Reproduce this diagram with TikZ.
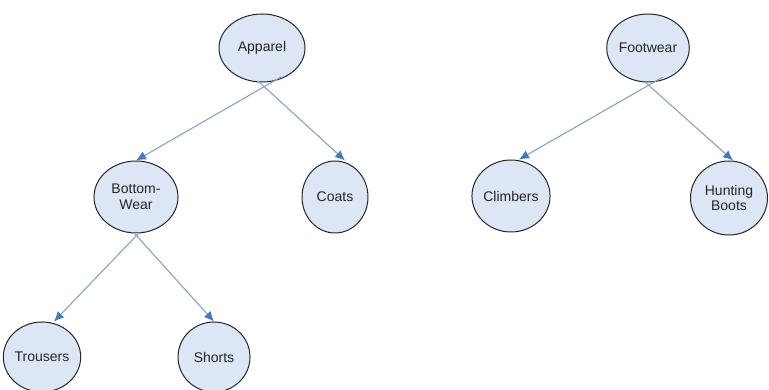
\documentclass[tikz,border=0pt]{standalone}
\usepackage{fontspec}
\setmainfont{Liberation Sans}
\usetikzlibrary{shapes.geometric,arrows.meta}
\definecolor{bubble}{HTML}{DCE6F4}
\definecolor{edgeline}{HTML}{86A2C4}
\definecolor{tipblue}{HTML}{4679B8}
\tikzset{
  cat/.style={ellipse, draw=black!85, line width=1pt, fill=bubble,
    inner sep=0pt, align=center, font=\fontsize{14}{15.5}\selectfont,
    text=black!85, minimum width=78pt, minimum height=71pt},
  link/.style={draw=edgeline, line width=1.1pt,
    -{Latex[length=10pt,width=9pt,color=tipblue]}}
}
\begin{document}
\begin{tikzpicture}[x=1pt,y=-1pt]
\useasboundingbox (0,0) rectangle (769,390);
% category bubbles
\node[cat, minimum width=86pt, minimum height=68pt] (app) at (262,48) {Apparel};
\node[cat, minimum width=84pt, minimum height=72pt] (bw) at (136,197) {Bottom-\\Wear};
\node[cat, minimum width=66pt, minimum height=72pt] (coats) at (335,197) {Coats};
\node[cat, minimum width=76pt, minimum height=70pt] (tro) at (42,357) {Trousers};
\node[cat, minimum width=72pt, minimum height=70pt] (sho) at (214,357) {Shorts};
\node[cat, minimum width=81pt, minimum height=68pt] (foot) at (648,48) {Footwear};
\node[cat, minimum width=76pt, minimum height=72pt] (clim) at (511,196) {Climbers};
\node[cat, minimum width=77pt, minimum height=74pt] (hunt) at (729,198) {Hunting\\Boots};
% tails of the connectors, just below each parent
\coordinate (appL) at (281,77);
\coordinate (appR) at (258,81);
\coordinate (bwL) at (138,234);
\coordinate (bwR) at (135,234);
\coordinate (footL) at (663,77);
\coordinate (footR) at (645,82);
% connectors
\draw[link] (appL) -- (bw.north);
\draw[link] (appR) -- ([xshift=10pt]coats.north);
\draw[link] (bwL) -- ([xshift=12pt]tro.north);
\draw[link] (bwR) -- (sho.north);
\draw[link] (footL) -- ([xshift=8pt]clim.north);
\draw[link] (footR) -- ([xshift=4pt]hunt.north);
\end{tikzpicture}
\end{document}
